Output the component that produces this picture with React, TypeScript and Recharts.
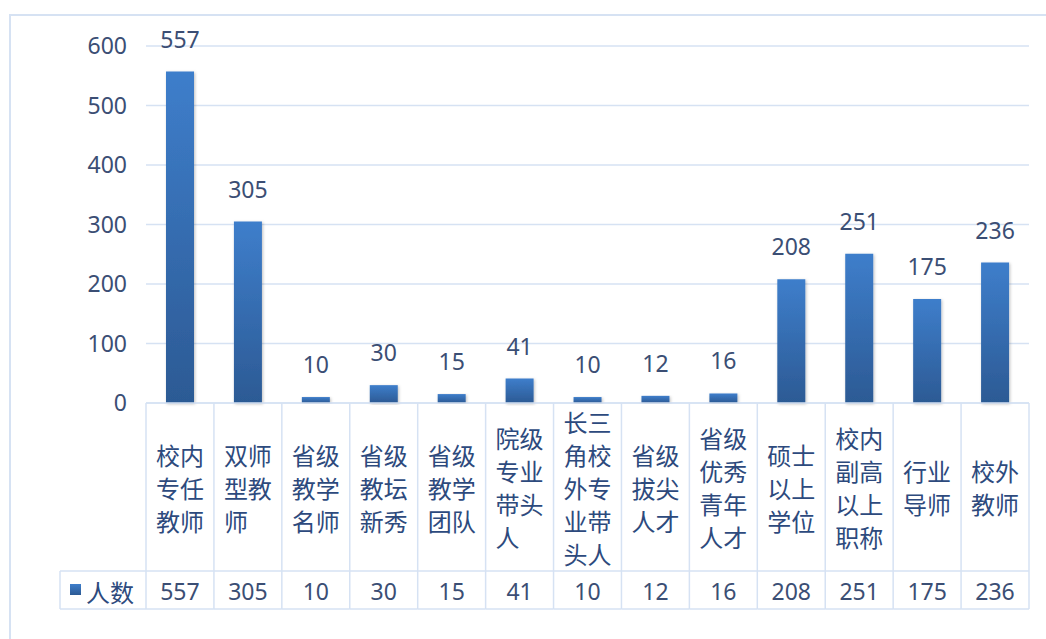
import React from 'react';
import { ComposedChart, Bar, XAxis, YAxis, CartesianGrid, LabelList } from 'recharts';

const categories = ['校内专任教师', '双师型教师', '省级教学名师', '省级教坛新秀', '省级教学团队', '院级专业带头人', '长三角校外专业带头人', '省级拔尖人才', '省级优秀青年人才', '硕士以上学位', '校内副高以上职称', '行业导师', '校外教师'];
const values = [557, 305, 10, 30, 15, 41, 10, 12, 16, 208, 251, 175, 236];
const yTicks = [0, 100, 200, 300, 400, 500, 600];
const seriesName = '人数';

const data = categories.map((c, i) => ({ name: c, value: values[i] }));

const NUM_FONT = "'Noto Sans', 'Noto Sans CJK SC', sans-serif";
const CJK_FONT = "'Noto Sans CJK SC', sans-serif";
const NUM_COLOR = '#3b4e74';
const CJK_COLOR = '#2d4a7d';
const LINE = '#d6e2f3';

function chunk(s: string, n: number): string[] {
  const out: string[] = [];
  const chars = Array.from(s);
  for (let i = 0; i < chars.length; i += n) out.push(chars.slice(i, i + n).join(''));
  return out;
}

const TableTick = (props: any) => {
  const { x, y, payload, index } = props;
  const half = payload && payload.offset ? payload.offset : 34;
  const label = String(payload.value);
  const lines = chunk(label, 2);
  const lh = 33;
  const catH = 168;
  const valH = 206;
  const centerY = y + catH / 2;
  const startY = centerY - ((lines.length - 1) * lh) / 2;
  const blockW = Math.min(2, Array.from(label).length) * 24;
  const left = x - half;
  const right = x + half;
  const last = index === categories.length - 1;
  return (
    <g>
      <line x1={left} y1={y} x2={left} y2={y + valH} stroke={LINE} strokeWidth={1.5} />
      {last && <line x1={right} y1={y} x2={right} y2={y + valH} stroke={LINE} strokeWidth={1.5} />}
      <line x1={left} y1={y + catH} x2={right} y2={y + catH} stroke={LINE} strokeWidth={1.5} />
      <line x1={left} y1={y + valH} x2={right} y2={y + valH} stroke={LINE} strokeWidth={1.5} />
      {lines.map((ln, i) => (
        <text key={i} x={x - blockW / 2} y={startY + i * lh} dominantBaseline="central" textAnchor="start" fontSize={24} fontFamily={CJK_FONT} fill={CJK_COLOR}>
          {ln}
        </text>
      ))}
      <text x={x} y={y + (catH + valH) / 2 + 1} dominantBaseline="central" textAnchor="middle" fontSize={23} fontFamily={NUM_FONT} fill={NUM_COLOR}>
        {values[index]}
      </text>
      {index === 0 && (
        <g>
          <line x1={60} y1={y + catH} x2={left} y2={y + catH} stroke={LINE} strokeWidth={1.5} />
          <line x1={60} y1={y + valH} x2={left} y2={y + valH} stroke={LINE} strokeWidth={1.5} />
          <line x1={60} y1={y + catH} x2={60} y2={y + valH} stroke={LINE} strokeWidth={1.5} />
          <rect x={70} y={y + (catH + valH) / 2 - 6} width={11} height={11} fill="url(#barGrad)" />
          <text x={86} y={y + (catH + valH) / 2 + 1} dominantBaseline="central" textAnchor="start" fontSize={24} fontFamily={CJK_FONT} fill={CJK_COLOR}>
            {seriesName}
          </text>
        </g>
      )}
    </g>
  );
};

const TopLabel = (props: any) => {
  const { x, y, width, value } = props;
  return (
    <text x={x + width / 2} y={y - 24} textAnchor="middle" fontSize={23} fontFamily={NUM_FONT} fill={NUM_COLOR}>
      {value}
    </text>
  );
};

export default function App() {
  return (
    <div style={{ position: 'absolute', left: 0, top: 0, width: 1046, height: 639, overflow: 'hidden', background: '#fff' }}>
      <div style={{ position: 'absolute', left: 9, top: 14, width: 1100, height: 700, borderTop: `2px solid ${LINE}`, borderLeft: `2px solid ${LINE}` }} />
      <div style={{ position: 'absolute', left: 0, top: 0 }}>
        <ComposedChart width={1046} height={639} data={data} margin={{ top: 46, right: 17, bottom: 30, left: 86 }}>
          <defs>
            <linearGradient id="barGrad" x1="0" y1="0" x2="0" y2="1">
              <stop offset="0%" stopColor="#3e7ecb" />
              <stop offset="100%" stopColor="#2c5a94" />
            </linearGradient>
            <filter id="barShadow" x="-30%" y="-10%" width="160%" height="120%">
              <feDropShadow dx="1" dy="1" stdDeviation="1.5" floodColor="#000" floodOpacity="0.25" />
            </filter>
          </defs>
          <CartesianGrid vertical={false} stroke={LINE} strokeWidth={1.5} />
          <YAxis
            width={60}
            domain={[0, 600]}
            ticks={yTicks}
            axisLine={false}
            tickLine={false}
            tickSize={0}
            tickMargin={19}
            tick={{ fontSize: 23, fontFamily: NUM_FONT, fill: NUM_COLOR }}
          />
          <XAxis
            dataKey="name"
            height={206}
            interval={0}
            tickSize={0}
            tickMargin={0}
            tickLine={false}
            axisLine={{ stroke: LINE, strokeWidth: 1.5 }}
            tick={<TableTick />}
          />
          <Bar dataKey="value" barSize={28} fill="url(#barGrad)" filter="url(#barShadow)" isAnimationActive={false}>
            <LabelList dataKey="value" content={<TopLabel />} />
          </Bar>
        </ComposedChart>
      </div>
    </div>
  );
}
